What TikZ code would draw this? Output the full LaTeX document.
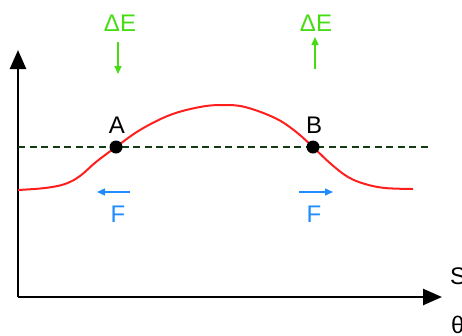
\documentclass[tikz,border=0pt]{standalone}
\usepackage{fontspec}
\setmainfont{Liberation Sans}
\usetikzlibrary{arrows.meta}
\definecolor{curvered}{RGB}{255,30,30}
\definecolor{egreen}{RGB}{70,220,20}
\definecolor{fblue}{RGB}{30,140,255}
\definecolor{dashgreen}{RGB}{20,60,20}
\tikzset{
  axis/.style={line width=2.5pt, -{Triangle[length=19pt, width=16pt]}},
  levelline/.style={draw=dashgreen, line width=2pt, dash pattern=on 7pt off 4.5pt},
  curveline/.style={draw=curvered, line width=2pt},
  pointdot/.style={circle, fill=black, inner sep=0pt, minimum size=13pt},
  biglabel/.style={font=\fontsize{24}{28}\selectfont, inner sep=0pt},
  earrow/.style={draw=egreen, line width=1.5pt, -{Triangle[length=8pt, width=7pt]}},
  farrow/.style={draw=fblue, line width=1.5pt, -{Triangle[length=8pt, width=7pt]}},
}
\begin{document}
\begin{tikzpicture}[x=1pt, y=-1pt]
  \useasboundingbox (0,0) rectangle (462,335);

  % --- axes ---
  \coordinate (origin) at (18,297);
  \coordinate (ytip) at (18,50);
  \coordinate (xtip) at (442,297);
  \draw[axis] (origin) -- (ytip);
  \draw[axis] (origin) -- (xtip);
  \node[biglabel, anchor=west] (slab) at (450,276) {S};
  \node[biglabel, anchor=west] (thlab) at (451,325) {θ};

  % --- level and curve ---
  \coordinate (lvlstart) at (18,147);
  \coordinate (lvlend) at (430,147);
  \draw[levelline] (lvlstart) -- (lvlend);
  \draw[curveline] plot[smooth, tension=0.6] coordinates {
    (18,190) (45,188) (65,184) (80,176) (96,162) (116,147) (140,130)
    (170,115) (200,107) (222,105) (245,107) (275,118) (295,131)
    (313,147) (331,164) (348,177) (365,184) (385,188) (413,189)};

  % --- points ---
  \node[pointdot] (dotA) at (116,147) {};
  \node[pointdot] (dotB) at (313,147) {};
  \node[biglabel] (labA) at (117,125) {A};
  \node[biglabel] (labB) at (314,125) {B};

  % --- energy arrows ---
  \node[biglabel, text=egreen] (deA) at (120,23) {ΔE};
  \node[biglabel, text=egreen] (deB) at (316,23) {ΔE};
  \coordinate (eAtop) at (118,42);
  \coordinate (eAbot) at (118,74);
  \coordinate (eBbot) at (315,69);
  \coordinate (eBtop) at (315,37);
  \draw[earrow] (eAtop) -- (eAbot);
  \draw[earrow] (eBbot) -- (eBtop);

  % --- forces ---
  \coordinate (fAfrom) at (130,192);
  \coordinate (fAto) at (97,192);
  \coordinate (fBfrom) at (299,192);
  \coordinate (fBto) at (333,192);
  \draw[farrow] (fAfrom) -- (fAto);
  \draw[farrow] (fBfrom) -- (fBto);
  \node[biglabel, text=fblue] (fA) at (118,214) {F};
  \node[biglabel, text=fblue] (fB) at (314,214) {F};

\end{tikzpicture}
\end{document}
